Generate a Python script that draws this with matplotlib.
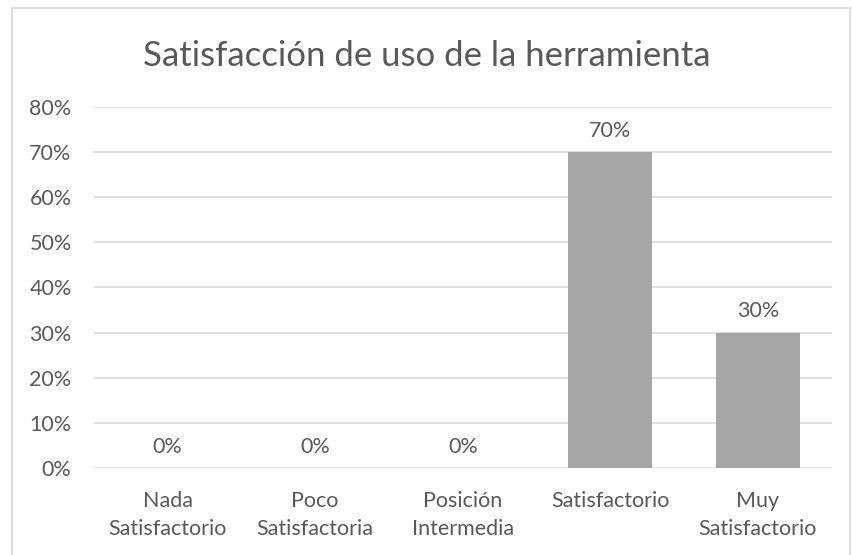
import matplotlib.pyplot as plt
from matplotlib.patches import Rectangle
from matplotlib.ticker import FuncFormatter

plt.rcParams['font.family'] = ['Lato', 'DejaVu Sans']

categories = ['Nada\nSatisfactorio', 'Poco\nSatisfactoria', 'Posición\nIntermedia',
              'Satisfactorio', 'Muy\nSatisfactorio']
values = [0.0, 0.0, 0.0, 0.70, 0.30]
yticks = [0, 0.1, 0.2, 0.3, 0.4, 0.5, 0.6, 0.7, 0.8]

text_color = '#595959'
grid_color = '#d9d9d9'
bar_color = '#a5a5a5'

fig = plt.figure(figsize=(8.53, 5.55), dpi=100)
ax = fig.add_axes([0.110, 0.157, 0.865, 0.650])

x = range(len(categories))
ax.bar(x, values, width=0.57, color=bar_color, zorder=2)

for xi, v in zip(x, values):
    ax.text(xi, v + 0.025, f'{v:.0%}', ha='center', va='bottom',
            fontsize=15.5, color=text_color)

ax.set_xlim(-0.5, len(categories) - 0.5)
ax.set_ylim(0, 0.8)
ax.set_yticks(yticks)
ax.yaxis.set_major_formatter(FuncFormatter(lambda v, _: f'{v:.0%}'))
ax.set_xticks(list(x))
ax.set_xticklabels(categories, fontsize=15.5, color=text_color, linespacing=1.5)
ax.tick_params(axis='y', labelsize=15.5, labelcolor=text_color, length=0, pad=16)
ax.tick_params(axis='x', length=0, pad=17)
ax.grid(axis='y', color=grid_color, linewidth=1.2, zorder=0)
for s in ax.spines.values():
    s.set_visible(False)

fig.text(0.5, 0.90, 'Satisfacción de uso de la herramienta', ha='center', va='center',
         fontsize=25, color=text_color)

fig.patches.append(Rectangle((12 / 853, -0.01), 838 / 853, 1 - 8 / 555 + 0.01,
                             transform=fig.transFigure, fill=False,
                             edgecolor='#d9d9d9', linewidth=1.2))

fig.savefig('out.png', dpi=100)
